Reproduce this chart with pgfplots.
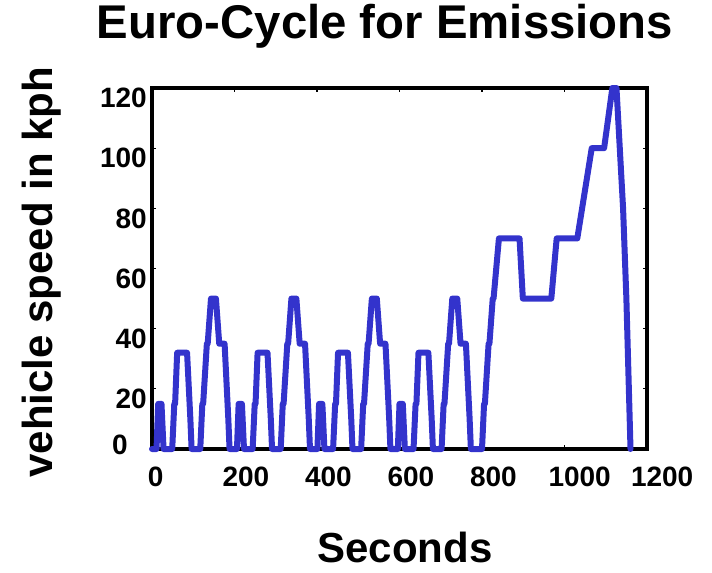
\documentclass[border=0pt]{standalone}
\usepackage{pgfplots}
\pgfplotsset{compat=1.18}
\usepackage{fontspec}
\setmainfont{Liberation Sans}
\definecolor{cycleblue}{RGB}{51,51,204}

\begin{document}
\begin{tikzpicture}
\begin{axis}[
  scale only axis,
  width=371.25pt, height=270.75pt,
  xmin=0, xmax=1200, ymin=0, ymax=120,
  clip=false,
  xtick={0,200,...,1200},
  xticklabels={{\makebox[6pt][l]{0}},{\makebox[18pt][l]{200}},{\makebox[18pt][l]{400}},
    {\makebox[18pt][l]{600}},{\makebox[18pt][l]{800}},{\makebox[24pt][l]{1000}},{\makebox[24pt][l]{1200}}},
  ytick={20,40,...,120},
  extra y ticks={0},
  extra y tick style={yticklabel style={anchor=east, xshift=-14.25pt, yshift=3pt}},
  tick align=inside,
  major tick length=3pt,
  tick style={line width=0.8pt, black},
  axis line style={line width=3.5pt},
  /pgf/number format/assume math mode=true,
  ticklabel style={font=\fontsize{21}{21}\selectfont\bfseries, inner sep=0pt},
  xticklabel style={anchor=north, yshift=-13.5pt},
  yticklabel style={anchor=north east, xshift=-3.75pt},
  title={Euro-Cycle for Emissions},
  title style={at={(0.4707,1.1144)}, anchor=base, font=\fontsize{35.5}{35.5}\selectfont\bfseries, inner sep=0pt},
  xlabel={Seconds},
  xlabel style={at={(0.511,-0.314)}, anchor=base, font=\fontsize{31.5}{31.5}\selectfont\bfseries, inner sep=0pt},
  ylabel={vehicle speed in kph},
  ylabel style={at={(-0.2,0.49)}, anchor=base, rotate=0, font=\fontsize{31.5}{31.5}\selectfont\bfseries, inner sep=0pt},
]
\addplot[cycleblue, line width=4.5pt, line join=round, line cap=round] coordinates {
(0,0) (11,0) (15,15) (23,15) (28,0) (49,0) (54,15) (56,15) (61,32) (85,32) (93,10) (96,0)
(117,0) (122,15) (124,15) (133,35) (135,35) (143,50) (155,50) (163,35) (176,35) (185,10) (188,0)
(195,0) (206,0) (210,15) (218,15) (223,0) (244,0) (249,15) (251,15) (256,32) (280,32) (288,10) (291,0)
(312,0) (317,15) (319,15) (328,35) (330,35) (338,50) (350,50) (358,35) (371,35) (380,10) (383,0)
(390,0) (401,0) (405,15) (413,15) (418,0) (439,0) (444,15) (446,15) (451,32) (475,32) (483,10) (486,0)
(507,0) (512,15) (514,15) (523,35) (525,35) (533,50) (545,50) (553,35) (566,35) (575,10) (578,0)
(585,0) (596,0) (600,15) (608,15) (613,0) (634,0) (639,15) (641,15) (646,32) (670,32) (678,10) (681,0)
(702,0) (707,15) (709,15) (718,35) (720,35) (728,50) (740,50) (748,35) (761,35) (770,10) (773,0)
(780,0) (800,0) (805,15) (807,15) (816,35) (818,35) (826,50) (828,50) (841,70) (891,70) (899,50)
(968,50) (981,70) (1031,70) (1066,100) (1096,100) (1116,120) (1126,120) (1142,80) (1150,50) (1160,0)
};
\end{axis}
\useasboundingbox (-114pt,-92.25pt) rectangle (420pt,336.75pt);
\end{tikzpicture}
\end{document}
